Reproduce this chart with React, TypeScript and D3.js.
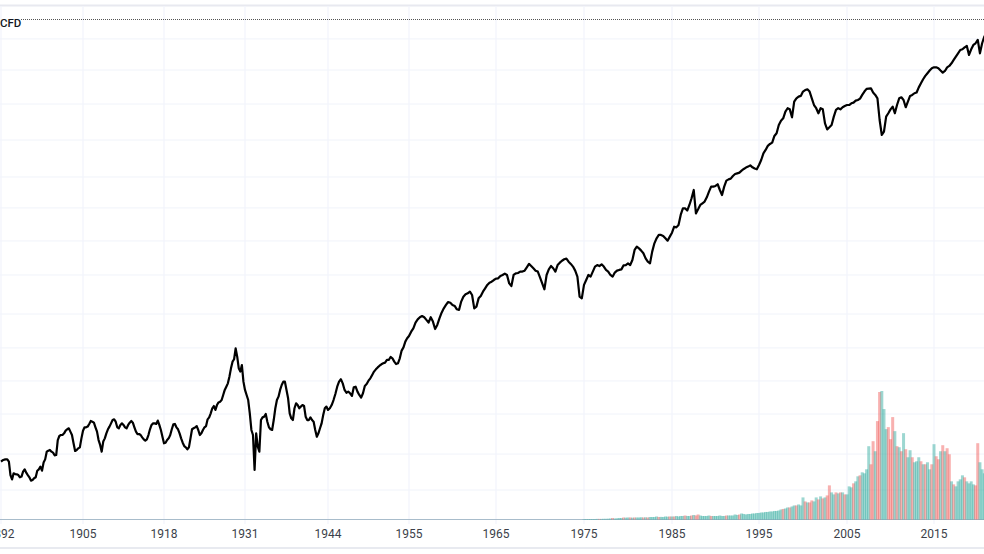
import React, { useEffect, useRef } from "react";
import * as d3 from "d3";

const tickYears = [1892, 1905, 1918, 1931, 1944, 1955, 1965, 1975, 1985, 1995, 2005, 2015];
const lastYear = 2021;

// log10 of the close, one value every half year from 1892
const logClose = [
  0.617, 0.631, 0.633, 0.521, 0.533, 0.526, 0.505, 0.545, 0.538, 0.505, 0.486, 0.505, 0.562, 0.552, 0.633, 0.695,
  0.688, 0.662, 0.771, 0.807, 0.819, 0.848, 0.831, 0.748, 0.7, 0.719, 0.838, 0.862, 0.886, 0.902, 0.862, 0.771,
  0.688, 0.783, 0.848, 0.89, 0.919, 0.862, 0.879, 0.879, 0.855, 0.895, 0.895, 0.831, 0.814, 0.79, 0.767, 0.807,
  0.879, 0.89, 0.91, 0.843, 0.748, 0.771, 0.807, 0.883, 0.862, 0.819, 0.752, 0.719, 0.719, 0.848, 0.862, 0.843,
  0.819, 0.862, 0.919, 0.962, 1.014, 1.021, 1.045, 1.093, 1.152, 1.224, 1.331, 1.426, 1.283, 1.307, 1.129, 1.057,
  0.843, 0.557, 0.724, 0.914, 0.938, 0.902, 0.848, 0.914, 1.057, 1.129, 1.188, 1.129, 0.962, 0.914, 1.033, 0.998,
  1.021, 0.938, 0.914, 0.914, 0.843, 0.819, 0.89, 0.998, 0.986,
  1.021, 1.1, 1.188, 1.176, 1.109, 1.105, 1.148, 1.117, 1.074, 1.157, 1.195, 1.236, 1.276, 1.302, 1.319, 1.343,
  1.364, 1.331, 1.319, 1.41, 1.474, 1.514,
  1.569, 1.633, 1.657, 1.629, 1.648, 1.564, 1.64, 1.712, 1.757, 1.736, 1.705, 1.76, 1.812, 1.831, 1.712, 1.783,
  1.831, 1.879, 1.902, 1.924, 1.943, 1.96, 1.89, 1.95, 1.964, 1.974, 2.005, 2.014, 1.981, 1.933, 1.848, 1.99,
  1.998, 2.021, 2.052, 2.067, 2.029, 1.981, 1.795, 1.879, 1.95, 1.974, 2.021, 2.026, 1.986, 1.95, 1.967, 1.986,
  2.019, 2.033, 2.057, 2.152, 2.124, 2.069, 2.033, 2.176, 2.236, 2.229, 2.195, 2.252, 2.29, 2.379, 2.426, 2.45,
  2.557, 2.419, 2.462, 2.505, 2.581, 2.586, 2.557, 2.581, 2.633, 2.657, 2.676, 2.695, 2.717, 2.733, 2.71, 2.736,
  2.819, 2.872, 2.895, 2.962, 3.052, 3.117, 3.133, 3.188, 3.224, 3.26, 3.276, 3.212, 3.141, 3.141, 3.033, 3.005,
  3.081, 3.141, 3.148, 3.164, 3.176, 3.195, 3.21, 3.26, 3.281, 3.253, 3.212, 2.95, 3.081, 3.133, 3.105, 3.212,
  3.2, 3.188, 3.236, 3.253, 3.319, 3.372, 3.41, 3.433, 3.426, 3.395, 3.433, 3.462, 3.51, 3.557, 3.576, 3.522,
  3.593, 3.629, 3.605, 3.681,
];

// the reading a quarter later than each value above
const logCloseMid = [
  0.626, 0.633, 0.617, 0.49, 0.528, 0.521, 0.51, 0.562, 0.521, 0.481, 0.498, 0.552, 0.581, 0.61, 0.688, 0.7,
  0.681, 0.664, 0.8, 0.807, 0.838, 0.855, 0.807, 0.693, 0.712, 0.783, 0.862, 0.867, 0.907, 0.895, 0.831, 0.736,
  0.76, 0.819, 0.867, 0.914, 0.902, 0.855, 0.89, 0.862, 0.879, 0.907, 0.862, 0.814, 0.807, 0.776, 0.776, 0.848,
  0.89, 0.886, 0.879, 0.795, 0.752, 0.783, 0.848, 0.886, 0.848, 0.783, 0.728, 0.705, 0.783, 0.855, 0.871, 0.807,
  0.843, 0.871, 0.933, 0.998, 0.986, 1.04, 1.057, 1.129, 1.176, 1.283, 1.348, 1.367, 1.26, 1.188, 1.093, 0.962,
  0.807, 0.819, 0.688, 0.933, 0.957, 0.862, 0.843, 0.998, 1.081, 1.164, 1.188, 1.069, 0.926, 0.998, 1.021, 1.01,
  1.014, 0.914, 0.933, 0.902, 0.795, 0.855, 0.95, 1.01, 0.998,
  1.057, 1.152, 1.205, 1.129, 1.117, 1.086, 1.152, 1.093, 1.105, 1.171, 1.212, 1.26, 1.29, 1.312, 1.324, 1.343,
  1.355, 1.314, 1.355, 1.433, 1.498, 1.545,
  1.61, 1.648, 1.648, 1.61, 1.617, 1.593, 1.681, 1.736, 1.752, 1.729, 1.7, 1.795, 1.819, 1.807, 1.724, 1.8,
  1.855, 1.895, 1.914, 1.926, 1.95, 1.95, 1.871, 1.962, 1.974, 1.981, 2.029, 1.998, 1.974, 1.89, 1.95, 2.014,
  1.974, 2.038, 2.062, 2.045, 2.01, 1.938, 1.783, 1.914, 1.938, 2.01, 2.014, 2.01, 1.974, 1.938, 1.981, 1.99,
  2.021, 2.021, 2.129, 2.14, 2.105, 2.045, 2.117, 2.212, 2.236, 2.212, 2.224, 2.295, 2.307, 2.426, 2.41, 2.498,
  2.39, 2.45, 2.474, 2.545, 2.581, 2.598, 2.521, 2.624, 2.638, 2.671, 2.681, 2.707, 2.724, 2.719, 2.705, 2.771,
  2.843, 2.886, 2.943, 3.021, 3.069, 3.141, 3.076, 3.212, 3.229, 3.271, 3.26, 3.164, 3.105, 3.133, 2.99, 3.021,
  3.129, 3.133, 3.157, 3.164, 3.181, 3.2, 3.236, 3.279, 3.283, 3.236, 3.057, 2.974, 3.105, 3.152, 3.164, 3.219,
  3.148, 3.229, 3.248, 3.29, 3.348, 3.391, 3.426, 3.433, 3.41, 3.407, 3.443, 3.486, 3.533, 3.562, 3.586, 3.562,
  3.605, 3.533, 3.652,
];

// grid levels, log10 of price
const gridLevels = [3.636, 3.414, 3.171, 2.914, 2.65, 2.429, 2.193, 1.95, 1.671, 1.429, 1.193, 0.957, 0.671, 0.414];

// volume per quarter from 1975, relative units, and direction of each quarter
const volumes = [
  0.5, 0.5, 0.5, 0.5, 0.5, 0.5, 0.6, 0.6, 0.6, 0.7, 0.7, 0.8, 1, 1.5, 1, 1.2, 1.5, 1.5, 2, 1.8, 2, 2, 1.8, 2,
  2, 2, 2.2, 2, 2.2, 2, 2.5, 2.5, 2.5, 3, 2.5, 2.6, 2.5, 3, 2.8, 3, 3, 3, 3.5, 3, 3.5, 3.5, 4, 3.5,
  3.5, 4, 4.5, 4, 5, 4, 3.5, 3.5, 3.5, 4, 3.5, 3.5, 3.5, 3.5, 4, 3.5, 3.5, 4, 4, 4, 4, 5, 4.5, 5,
  6, 5.5, 5, 5.5, 5.5, 6, 6, 6.5, 6.5, 7, 7, 7.5, 7.5, 8, 8, 8.5, 8.5, 9, 10, 10.5, 11, 12, 12, 13,
  14, 14, 15, 14, 22, 18, 17, 17, 19, 18, 22, 20, 23, 21, 22, 24, 34, 27, 25, 27, 26, 27, 27, 25,
  25, 33, 32, 36, 38, 43, 44, 47, 46, 50, 73, 55, 78, 68, 98, 127, 128, 110, 90, 92, 80, 102, 88, 73,
  72, 68, 86, 70, 62, 69, 62, 57, 58, 62, 58, 55, 55, 57, 50, 55, 75, 63, 60, 68, 74, 68, 71, 65,
  38, 35, 33, 38, 40, 44, 42, 38, 36, 38, 35, 34, 76, 57, 50, 46,
];
const volumeDirs = [
  "uuuu", "uuud", "uuuu", "uduu", "uudu", "udud", "uuud", "uduu", "uudu", "uuud", "uduu", "uudu",
  "udud", "duuu", "uudu", "uuuu", "uduu", "uuud", "uuuu", "uuuu", "uuuu", "uuuu", "uuud", "uudu",
  "uduu", "udud", "duud", "udud", "duud", "udud", "uuud", "uudu", "uuud", "dudd", "uuud", "ddud",
  "udud", "uudu", "uudu", "duud", "uddu", "dudd", "uduu", "uudu", "uuud", "duuu",
].join("");
const volumeColors = { u: "#26a69a", d: "#ef5350" };

const startYear = tickYears[0];

const App = () => {
  const ref = useRef<SVGSVGElement>(null);

  useEffect(() => {
    const width = 984;
    const height = 554;
    const baseline = 519.5;

    const svg = d3.select(ref.current);
    svg.selectAll("*").remove();

    // the time axis is not linear: later years take more room
    const x = d3
      .scaleLinear()
      .domain([...tickYears, lastYear])
      .range([1, 83, 164, 245, 328, 409, 496, 584, 672, 759, 847, 934, 986.5]);
    const y = d3.scaleLinear().domain([0, 3.914]).range([548, 0]);
    const yVolume = d3.scaleLinear().domain([0, 127]).range([baseline, 392]);

    // frame
    svg
      .append("line")
      .attr("x1", 0)
      .attr("x2", width)
      .attr("y1", 5.5)
      .attr("y2", 5.5)
      .attr("stroke", "#e8e9f0")
      .attr("stroke-width", 2);
    svg
      .append("line")
      .attr("x1", 0)
      .attr("x2", width)
      .attr("y1", 548)
      .attr("y2", 548)
      .attr("stroke", "#e0e3eb")
      .attr("stroke-width", 1.5);

    // grid
    svg
      .selectAll("line.h-grid")
      .data(gridLevels)
      .join("line")
      .attr("class", "h-grid")
      .attr("x1", 0)
      .attr("x2", width)
      .attr("y1", (d) => y(d))
      .attr("y2", (d) => y(d))
      .attr("stroke", "#f0f3fa")
      .attr("stroke-width", 1);
    svg
      .selectAll("line.v-grid")
      .data(tickYears)
      .join("line")
      .attr("class", "v-grid")
      .attr("x1", (d) => x(d))
      .attr("x2", (d) => x(d))
      .attr("y1", 6)
      .attr("y2", 524)
      .attr("stroke", "#f2f3fc")
      .attr("stroke-width", 1.2);

    // zero volume line under the whole history
    svg
      .append("line")
      .attr("x1", 0)
      .attr("x2", width)
      .attr("y1", baseline)
      .attr("y2", baseline)
      .attr("stroke", "#a8bccb")
      .attr("stroke-width", 1);

    // volume
    const volumeStart = 1975;
    svg
      .selectAll("rect.volume")
      .data(volumes)
      .join("rect")
      .attr("class", "volume")
      .attr("x", (_, i) => x(volumeStart + i / 4) - 1.5)
      .attr("width", 3)
      .attr("y", (d) => yVolume(d))
      .attr("height", (d) => baseline - yVolume(d))
      .attr("fill", (_, i) => volumeColors[volumeDirs[i] as "u" | "d"])
      .attr("opacity", 0.45);

    // close, half year values with the quarter readings between them
    const closes = d3.merge<number>(
      logClose.map((d, i) => (i < logCloseMid.length ? [d, logCloseMid[i]] : [d]))
    );
    const line = d3
      .line<number>()
      .x((_, i) => x(startYear + i / 4))
      .y((d) => y(d));
    svg
      .append("path")
      .attr("d", line(closes))
      .attr("fill", "none")
      .attr("stroke", "#000")
      .attr("stroke-width", 2.2)
      .attr("stroke-linejoin", "round");

    // dotted line and label
    svg
      .append("line")
      .attr("x1", 21)
      .attr("x2", width)
      .attr("y1", 19.5)
      .attr("y2", 19.5)
      .attr("stroke", "#555")
      .attr("stroke-dasharray", "1 1");
    svg
      .append("text")
      .attr("x", 0)
      .attr("y", 27)
      .style("font-family", "Roboto, sans-serif")
      .style("font-size", "11.5px")
      .style("font-weight", 500)
      .style("fill", "#131722")
      .text("CFD");

    // tick labels
    svg
      .selectAll("text.tick")
      .data(tickYears)
      .join("text")
      .attr("class", "tick")
      .attr("x", (d) => x(d))
      .attr("y", 538)
      .attr("text-anchor", "middle")
      .style("font-family", "Roboto, sans-serif")
      .style("font-size", "12px")
      .style("fill", "#3b3f4a")
      .text((d) => String(d));
  }, []);

  return (
    <svg
      ref={ref}
      width={984}
      height={554}
      style={{ position: "absolute", left: 0, top: 0, background: "#fff" }}
    />
  );
};

export default App;
